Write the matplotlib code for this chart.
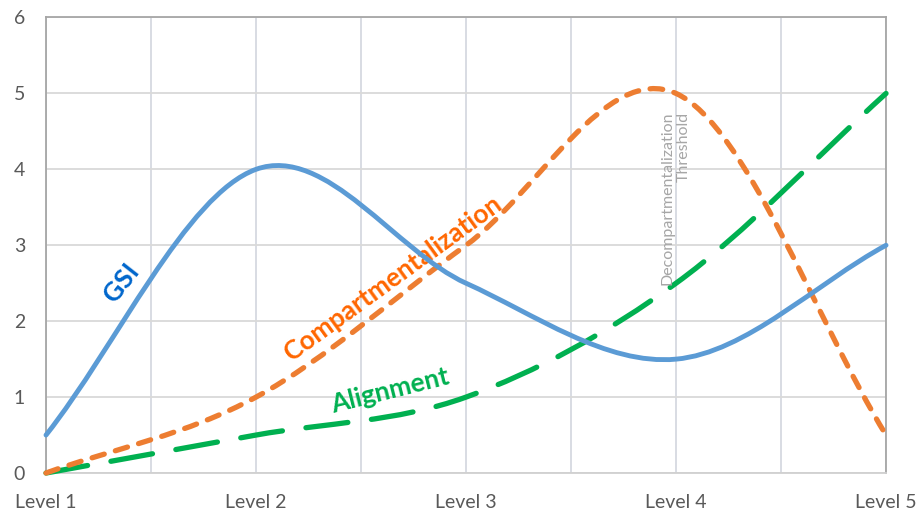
import matplotlib

matplotlib.use("Agg")
import matplotlib.pyplot as plt
from matplotlib.path import Path
from matplotlib.patches import PathPatch

plt.rcParams["font.family"] = ["Lato", "DejaVu Sans"]

levels = ["Level 1", "Level 2", "Level 3", "Level 4", "Level 5"]
gsi = [0.5, 4.0, 2.5, 1.5, 3.0]
compartmentalization = [0.0, 1.0, 3.0, 5.0, 0.5]
alignment = [0.0, 0.5, 1.0, 2.5, 5.0]


def smooth_path(xs, ys):
    # cubic bezier through each point, spreadsheet-style smoothing
    n = len(xs)
    verts = [(xs[0], ys[0])]
    codes = [Path.MOVETO]
    for i in range(n - 1):
        if i == 0:
            dx1, dy1 = (xs[1] - xs[0]) / 3, (ys[1] - ys[0]) / 3
        else:
            dx1, dy1 = (xs[i + 1] - xs[i - 1]) / 6, (ys[i + 1] - ys[i - 1]) / 6
        if i + 1 == n - 1:
            dx2, dy2 = (xs[i + 1] - xs[i]) / 3, (ys[i + 1] - ys[i]) / 3
        else:
            dx2, dy2 = (xs[i + 2] - xs[i]) / 6, (ys[i + 2] - ys[i]) / 6
        verts += [(xs[i] + dx1, ys[i] + dy1),
                  (xs[i + 1] - dx2, ys[i + 1] - dy2),
                  (xs[i + 1], ys[i + 1])]
        codes += [Path.CURVE4] * 3
    return Path(verts, codes)


fig = plt.figure(figsize=(9.22, 5.16), dpi=100)
ax = fig.add_axes([0.0499, 0.0833, 0.9111, 0.8828])

x = list(range(len(levels)))

ax.add_patch(PathPatch(smooth_path(x, alignment), facecolor="none",
                       edgecolor="#00B050", lw=3.8, linestyle=(0, (8, 4.5)),
                       capstyle="round", zorder=3, clip_on=False))
ax.add_patch(PathPatch(smooth_path(x, compartmentalization), facecolor="none",
                       edgecolor="#ED7D31", lw=3.8, linestyle=(0, (2.4, 2.2)),
                       capstyle="round", zorder=4, clip_on=False))
ax.add_patch(PathPatch(smooth_path(x, gsi), facecolor="none",
                       edgecolor="#5B9BD5", lw=3.5, capstyle="round",
                       zorder=5, clip_on=False))

ax.set_xlim(0, 4)
ax.set_ylim(0, 6)
ax.set_xticks(x)
ax.set_xticklabels(levels)
ax.set_xticks([0.5, 1.5, 2.5, 3.5], minor=True)
ax.set_yticks(range(0, 7))
ax.tick_params(axis="both", which="both", length=0, labelsize=14,
               labelcolor="#595959")
ax.tick_params(axis="x", pad=15)
ax.tick_params(axis="y", pad=15)

ax.grid(True, axis="y", color="#D9D9D9", lw=1.3)
ax.grid(True, axis="x", which="both", color="#D6D9E0", lw=1.3)
ax.set_axisbelow(True)

for side in ["left", "top", "right"]:
    ax.spines[side].set_color("#A6A6A6")
    ax.spines[side].set_linewidth(1.3)
ax.spines["bottom"].set_color("#D0D0D0")
ax.spines["bottom"].set_linewidth(1.3)

ax.text(0.36, 2.5, "GSI", color="#0066CC", fontsize=19, fontweight="bold",
        rotation=52, ha="center", va="center")
ax.text(1.65, 2.57, "Compartmentalization", color="#FF6600", fontsize=19,
        fontweight="bold", rotation=36, ha="center", va="center")
ax.text(1.64, 1.08, "Alignment", color="#00B050", fontsize=19,
        fontweight="bold", rotation=14, ha="center", va="center")
ax.text(3.0, 4.76, "Decompartmentalization\nThreshold", color="#A6A6A6",
        fontsize=11.5, rotation=90, ha="center", va="top",
        multialignment="right", linespacing=1.2)

fig.savefig("out.png", dpi=100)
